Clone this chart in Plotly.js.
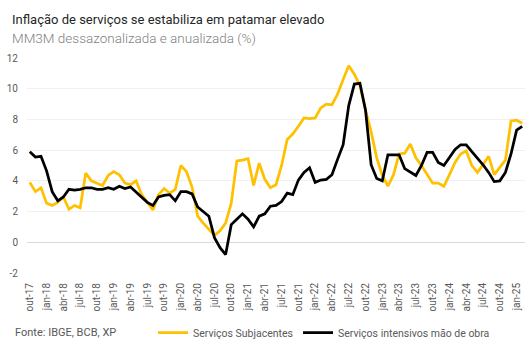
<!DOCTYPE html>
<html>
<head>
<meta charset="utf-8">
<script src="https://cdn.plot.ly/plotly-3.0.1.min.js"></script>
<style>html,body{margin:0;padding:0;background:#fff;}#chart{width:532px;height:354px;}</style>
</head>
<body>
<div id="chart"></div>
<script>
const months = [
  "out-17","nov-17","dez-17",
  "jan-18","fev-18","mar-18","abr-18","mai-18","jun-18","jul-18","ago-18","set-18","out-18","nov-18","dez-18",
  "jan-19","fev-19","mar-19","abr-19","mai-19","jun-19","jul-19","ago-19","set-19","out-19","nov-19","dez-19",
  "jan-20","fev-20","mar-20","abr-20","mai-20","jun-20","jul-20","ago-20","set-20","out-20","nov-20","dez-20",
  "jan-21","fev-21","mar-21","abr-21","mai-21","jun-21","jul-21","ago-21","set-21","out-21","nov-21","dez-21",
  "jan-22","fev-22","mar-22","abr-22","mai-22","jun-22","jul-22","ago-22","set-22","out-22","nov-22","dez-22",
  "jan-23","fev-23","mar-23","abr-23","mai-23","jun-23","jul-23","ago-23","set-23","out-23","nov-23","dez-23",
  "jan-24","fev-24","mar-24","abr-24","mai-24","jun-24","jul-24","ago-24","set-24","out-24","nov-24","dez-24",
  "jan-25","fev-25"
];

const tickLabels = [
  "out-17","jan-18","abr-18","jul-18","out-18","jan-19","abr-19","jul-19","out-19","jan-20",
  "abr-20","jul-20","out-20","jan-21","abr-21","jul-21","out-21","jan-22","abr-22","jul-22",
  "out-22","jan-23","abr-23","jul-23","out-23","jan-24","abr-24","jul-24","out-24","jan-25"
];

const yTickVals = [-2, 0, 2, 4, 6, 8, 10, 12];
const yTickText = ["-2", "0", "2", "4", "6", "8", "10", "12"];

const subjacentes = [
  3.9, 3.3, 3.55, 2.55, 2.4, 2.6, 2.95, 2.15, 2.4, 2.25,
  4.5, 4.0, 3.85, 3.7, 4.35, 4.6, 4.4, 3.85, 3.75, 4.0,
  3.1, 2.6, 2.1, 3.1, 3.5, 3.2, 3.45, 5.0, 4.6, 3.6,
  1.7, 1.25, 0.85, 0.45, 0.75, 1.25, 2.55, 5.3, 5.35, 5.45,
  3.7, 5.15, 4.1, 3.55, 3.75, 5.0, 6.7, 7.05, 7.55, 8.1,
  8.05, 8.1, 8.75, 9.0, 8.95, 9.65, 10.6, 11.5, 10.95, 10.2,
  8.6, 7.2, 5.5, 4.35, 3.65, 4.4, 5.75, 5.8, 6.4, 5.5,
  5.0, 4.4, 3.85, 3.85, 3.65, 4.4, 5.2, 5.75, 5.95, 5.0,
  4.55, 5.05, 5.6, 4.4, 4.9, 5.35, 7.9, 7.95, 7.75
];

const intensivos = [
  5.9, 5.55, 5.6, 4.65, 3.3, 2.7, 2.95, 3.45, 3.4, 3.45,
  3.55, 3.55, 3.45, 3.45, 3.55, 3.45, 3.65, 3.5, 3.6, 3.25,
  2.9, 2.6, 2.4, 2.95, 3.05, 3.1, 2.7, 3.3, 3.3, 3.15,
  2.3, 2.0, 1.7, 0.3, -0.35, -0.8, 1.15, 1.5, 1.85, 1.5,
  1.0, 1.7, 1.85, 2.35, 2.4, 2.65, 3.2, 3.1, 4.05, 4.55,
  4.85, 3.9, 4.05, 4.1, 4.4, 5.4, 6.35, 8.9, 10.3, 10.35,
  8.6, 5.05, 4.15, 4.0, 5.7, 5.7, 5.7, 4.8, 4.6, 4.35,
  5.0, 5.85, 5.85, 5.2, 5.0, 5.5, 6.05, 6.35, 6.35, 5.9,
  5.5, 5.05, 4.55, 3.95, 4.0, 4.55, 5.75, 7.3, 7.55
];

const FONT = "Roboto, 'Noto Sans', Arial, sans-serif";
const plotL = 27, plotR = 7, plotT = 58, plotB = 76;
const W = 532, H = 354;
const pw = W - plotL - plotR, ph = H - plotT - plotB;
const px2x = p => (p - plotL) / pw;
const py2y = p => (H - plotB - p) / ph;

const traces = [
  {
    x: months, y: subjacentes, type: "scatter", mode: "lines",
    name: "Serviços Subjacentes",
    line: {color: "#FFC000", width: 2.75}
  },
  {
    x: months, y: intensivos, type: "scatter", mode: "lines",
    name: "Serviços intensivos mão de obra",
    line: {color: "#000000", width: 2.75}
  }
];

const layout = {
  width: W, height: H,
  margin: {l: plotL, r: plotR, t: plotT, b: plotB, pad: 0},
  paper_bgcolor: "#ffffff", plot_bgcolor: "#ffffff",
  font: {family: FONT, color: "#595959", size: 10},
  showlegend: true,
  legend: {
    orientation: "h", x: px2x(153), xanchor: "left", y: py2y(339), yanchor: "middle",
    font: {family: FONT, size: 10.5, color: "#595959"},
    bgcolor: "rgba(0,0,0,0)", borderwidth: 0, tracegroupgap: 0
  },
  xaxis: {
    type: "category", categoryorder: "array", categoryarray: months,
    range: [-0.5, months.length - 0.5],
    tickmode: "array", tickvals: tickLabels, ticktext: tickLabels,
    tickangle: -90, showgrid: false, zeroline: false, showline: false,
    ticks: "", ticklabelstandoff: 7,
    tickfont: {family: FONT, size: 10, color: "#595959"},
    fixedrange: true
  },
  yaxis: {
    range: [-2, 12], tickmode: "array", tickvals: yTickVals, ticktext: yTickText,
    showgrid: true, gridcolor: "#f0f0f0", gridwidth: 1,
    zeroline: true, zerolinecolor: "#d9d9d9", zerolinewidth: 1,
    showline: false, ticks: "", ticklabelstandoff: 8,
    tickfont: {family: FONT, size: 10, color: "#595959"},
    fixedrange: true
  },
  annotations: [
    {
      text: "Inflação de serviços se estabiliza em patamar elevado",
      xref: "paper", yref: "paper", x: px2x(10), y: py2y(9),
      xanchor: "left", yanchor: "top", showarrow: false,
      font: {family: FONT, size: 13, color: "#262626"}
    },
    {
      text: "MM3M dessazonalizada e anualizada (%)",
      xref: "paper", yref: "paper", x: px2x(10), y: py2y(27),
      xanchor: "left", yanchor: "top", showarrow: false,
      font: {family: FONT, size: 13.5, color: "#7f7f7f", weight: 300}
    },
    {
      text: "Fonte: IBGE, BCB, XP",
      xref: "paper", yref: "paper", x: px2x(13), y: py2y(339),
      xanchor: "left", yanchor: "middle", showarrow: false,
      font: {family: FONT, size: 11, color: "#595959"}
    }
  ]
};

Plotly.newPlot("chart", traces, layout, {displayModeBar: false, staticPlot: true});
</script>
</body>
</html>
